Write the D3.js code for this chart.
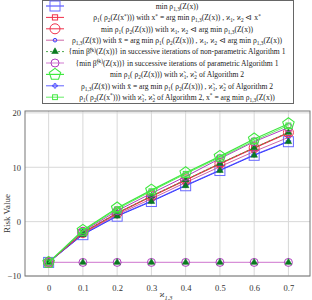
<!DOCTYPE html>
<html>
<head>
<meta charset="utf-8">
<script src="https://cdn.jsdelivr.net/npm/d3@7"></script>
<style>
  body { margin: 0; background: #fff; }
  text { font-family: "Liberation Serif", "DejaVu Serif", serif; }
</style>
</head>
<body>
<div id="container"></div>
<script>
const width = 312;
const height = 300;

// x values (ϰ1,3)
const xValues = [0, 0.1, 0.2, 0.3, 0.4, 0.5, 0.6, 0.7];
const xTicks = [0, 0.1, 0.2, 0.3, 0.4, 0.5, 0.6, 0.7];
const yTicks = [-10, 0, 10, 20];

// series
const minRho13 = [-7.5, -2.4, 1.0, 3.7, 6.6, 9.4, 12.2, 14.7];
const rho1Xstar = [-7.5, -2.1, 1.5, 4.6, 7.6, 10.6, 13.5, 16.3];
const minRho1Rho2 = [-7.5, -2.0, 1.6, 4.7, 7.7, 10.7, 13.6, 16.4];
const rho13Xbar = [-7.5, -2.2, 1.3, 4.2, 7.2, 10.1, 12.9, 15.5];
const nonParamIter = [-7.5, -2.0, 1.6, 4.7, 7.7, 10.7, 13.6, 16.4];
const nonParamIterLow = [-7.5, -7.5, -7.5, -7.5, -7.5, -7.5, -7.5, -7.5];
const paramIter = [-7.5, -7.5, -7.5, -7.5, -7.5, -7.5, -7.5, -7.5];
const paramIterUp = [-7.5, -1.8, 2.0, 5.2, 8.3, 11.6, 14.7, 17.3];
const alg2Min = [-7.5, -1.6, 2.5, 5.8, 9.0, 12.0, 15.2, 18.0];
const alg2Rho13 = [-7.5, -2.3, 1.1, 3.8, 6.7, 9.5, 12.3, 14.8];
const alg2Xstar = [-7.5, -1.7, 2.3, 5.6, 8.8, 11.8, 14.9, 17.7];

const legendLabels = [
  "min ρ_{1,3}(Z(x))",
  "ρ_1( ρ_2(Z(x^*))) with x^* = arg min ρ_{1,3}(Z(x)) , ϰ_1, ϰ_2 ⊲ x^*",
  "min ρ_1( ρ_2(Z(x))) with ϰ_1, ϰ_2 ⊲ arg min ρ_{1,3}(Z(x))",
  "ρ_{1,3}(Z(x̄)) with x̄ = arg min ρ_1( ρ_2(Z(x))) , ϰ_1, ϰ_2 ⊲ arg min ρ_{1,3}(Z(x))",
  "{min β̃^{(k)}(Z(x))} in successive iterations of non-parametric Algorithm 1",
  "{min β̃^{(k)}(Z(x))} in successive iterations of parametric Algorithm 1",
  "min ρ_1( ρ_2(Z(x))) with ϰ̃_1, ϰ̃_2 of Algorithm 2",
  "ρ_{1,3}(Z(x̄)) with x̄ = arg min ρ_1( ρ_2(Z(x))) , ϰ̃_1, ϰ̃_2 of Algorithm 2",
  "ρ_1( ρ_2(Z(x^*))) with ϰ̃_1, ϰ̃_2 of Algorithm 2, x^* = arg min ρ_{1,3}(Z(x))"
];

const blue = "#3a3aff";
const red = "#f0304a";
const lime = "#40e840";
const dkgreen = "#0a7a20";
const purple = "#b040c0";
const lilac = "#d890d8";

// draw order: bottom first
let series = [
  { vals: paramIter, line: lilac, width: 1.2, marker: "circle", size: 4, mstroke: purple, legend: 5 },
  { vals: nonParamIterLow, line: "none", marker: "triangle", size: 3.4, mfill: dkgreen, mstroke: dkgreen },
  { vals: minRho13, line: blue, width: 1, marker: "square", size: 5, mstroke: "#6a6aff", legend: 0 },
  { vals: alg2Rho13, line: blue, width: 0.8, marker: "star", size: 2, mstroke: blue, legend: 7 },
  { vals: rho13Xbar, line: "#c04090", width: 0.8, marker: "dot", size: 1.8, mstroke: blue, legend: 3 },
  { vals: rho1Xstar, line: red, width: 1, marker: "square", size: 2.6, mstroke: red, legend: 1 },
  { vals: minRho1Rho2, line: red, width: 1, marker: "circle", size: 5, mstroke: red, legend: 2 },
  { vals: nonParamIter, line: "#3aa03a", width: 0.9, dash: "2,2", marker: "triangle", size: 3.4, mfill: dkgreen, mstroke: dkgreen, legend: 4 },
  { vals: minRho13, line: "none", marker: "triangle", size: 3.4, mfill: dkgreen, mstroke: dkgreen },
  { vals: paramIterUp, line: purple, width: 1, marker: "circle", size: 4, mstroke: purple },
  { vals: alg2Xstar, line: lime, width: 0.8, marker: "square", size: 2.4, mstroke: lime, legend: 8 },
  { vals: alg2Min, line: lime, width: 1.2, marker: "pentagon", size: 6, mstroke: lime, legend: 6 }
];

let x = d3.scaleLinear().domain([-0.069, 0.763]).range([25, 310]);
let y = d3.scaleLinear().domain([-10, 20.35]).range([276, 111]);

let svg = d3.select("#container").append("svg")
  .attr("width", width)
  .attr("height", height)
  .attr("viewBox", `0 0 ${width} ${height}`);

// grid
svg.append("g")
  .selectAll("line")
  .data(xTicks)
  .join("line")
  .attr("x1", d => x(d)).attr("x2", d => x(d))
  .attr("y1", y.range()[1]).attr("y2", y.range()[0])
  .attr("stroke", "#d8d8d8").attr("stroke-width", 1);
svg.append("g")
  .selectAll("line")
  .data(yTicks)
  .join("line")
  .attr("x1", x.range()[0]).attr("x2", x.range()[1])
  .attr("y1", d => y(d)).attr("y2", d => y(d))
  .attr("stroke", "#d8d8d8").attr("stroke-width", 1);

// axes
let xAxis = svg.append("g")
  .attr("transform", `translate(0,${y.range()[0]})`)
  .call(d3.axisBottom(x).tickValues(xTicks).tickFormat(d => d === 0 ? "0" : d3.format(".1f")(d)).tickSize(0).tickPadding(9));
let yAxis = svg.append("g")
  .attr("transform", `translate(${x.range()[0]},0)`)
  .call(d3.axisLeft(y).tickValues(yTicks).tickFormat(d => d < 0 ? "\u2212" + Math.abs(d) : d).tickSize(0).tickPadding(4));
[xAxis, yAxis].forEach(a => {
  a.select(".domain").remove();
  a.selectAll("text").attr("font-size", 8.5).attr("fill", "#333")
    .attr("font-family", "Liberation Serif, serif");
});

svg.append("rect")
  .attr("x", x.range()[0]).attr("y", y.range()[1])
  .attr("width", x.range()[1] - x.range()[0])
  .attr("height", y.range()[0] - y.range()[1])
  .attr("fill", "none").attr("stroke", "#777").attr("stroke-width", 1);

// axis labels
svg.append("text")
  .attr("transform", `translate(10,${(y.range()[0] + y.range()[1]) / 2 + 20}) rotate(-90)`)
  .attr("text-anchor", "middle")
  .attr("font-size", 9).attr("fill", "#333")
  .text("Risk Value");

function markup(sel, str, size) {
  // split on _{..}, ^{..}, _c, ^c
  let re = /([_^])(\{[^}]*\}|.)/g;
  let last = 0, m, shift = 0;
  let parts = [];
  while ((m = re.exec(str)) !== null) {
    if (m.index > last) parts.push({ t: str.slice(last, m.index), s: 0 });
    let body = m[2].startsWith("{") ? m[2].slice(1, -1) : m[2];
    parts.push({ t: body, s: m[1] === "_" ? 1 : -1 });
    last = re.lastIndex;
  }
  if (last < str.length) parts.push({ t: str.slice(last), s: 0 });
  parts.forEach(p => {
    let off = p.s === 1 ? size * 0.28 : p.s === -1 ? -size * 0.35 : 0;
    sel.append("tspan")
      .attr("dy", off - shift)
      .attr("font-size", p.s ? size * 0.7 : size)
      .text(p.t);
    shift = off;
  });
}

let xl = svg.append("text")
  .attr("x", 166).attr("y", 297)
  .attr("text-anchor", "middle").attr("fill", "#333").attr("font-style", "italic");
markup(xl, "ϰ_{1,3}", 9);

// lines and markers
let line = d3.line().x((d, i) => x(xValues[i])).y(d => y(d));

function drawMarker(g, type, size, fill, stroke) {
  if (type === "square") {
    g.append("rect").attr("x", -size).attr("y", -size).attr("width", 2 * size).attr("height", 2 * size)
      .attr("fill", fill || "none").attr("stroke", stroke).attr("stroke-width", 1);
  } else if (type === "circle" || type === "dot") {
    g.append("circle").attr("r", size).attr("fill", fill || "none").attr("stroke", stroke).attr("stroke-width", 1);
  } else if (type === "triangle") {
    g.append("path").attr("d", d3.symbol(d3.symbolTriangle, size * size * 1.6)())
      .attr("fill", fill).attr("stroke", stroke).attr("stroke-width", 0.6);
  } else if (type === "pentagon") {
    let pts = d3.range(5).map(k => {
      let a = -Math.PI / 2 + k * 2 * Math.PI / 5;
      return [size * Math.cos(a), size * Math.sin(a)];
    });
    g.append("path").attr("d", "M" + pts.join("L") + "Z")
      .attr("fill", fill || "none").attr("stroke", stroke).attr("stroke-width", 1.1);
  } else if (type === "star") {
    g.append("path").attr("d", d3.symbol(d3.symbolCross, size * size * 3)())
      .attr("fill", "none").attr("stroke", stroke).attr("stroke-width", 0.8);
  }
}

series.forEach(s => {
  if (s.line !== "none") {
    svg.append("path")
      .datum(s.vals)
      .attr("d", line)
      .attr("fill", "none")
      .attr("stroke", s.line)
      .attr("stroke-width", s.width)
      .attr("stroke-dasharray", s.dash || null);
  }
  let mk = svg.append("g")
    .selectAll("g")
    .data(s.vals)
    .join("g")
    .attr("transform", (d, i) => "translate(" + x(xValues[i]) + "," + y(d) + ")");
  mk.each(function() {
    drawMarker(d3.select(this), s.marker, s.size, s.mfill, s.mstroke);
  });
});

// legend
let lg = svg.append("g");
lg.append("rect")
  .attr("x", 42.5).attr("y", 0.5).attr("width", 251).attr("height", 103)
  .attr("fill", "#fff").attr("stroke", "#666").attr("stroke-width", 1);

let legendSeries = series.filter(s => s.legend !== undefined).sort((a, b) => a.legend - b.legend);
legendSeries.forEach((s, i) => {
  let cy = 6 + i * 11.4;
  let row = lg.append("g");
  row.append("line")
    .attr("x1", 46).attr("x2", 64).attr("y1", cy).attr("y2", cy)
    .attr("stroke", s.line === "none" ? s.mstroke : s.line)
    .attr("stroke-width", s.width || 1)
    .attr("stroke-dasharray", s.dash || null);
  let mg = row.append("g").attr("transform", `translate(55,${cy})`);
  let legSize = s.marker === "pentagon" ? 6 : s.size;
  drawMarker(mg, s.marker, legSize, s.mfill, s.mstroke);
  let t = row.append("text")
    .attr("x", 177).attr("y", cy + 2.8)
    .attr("text-anchor", "middle")
    .attr("fill", "#222");
  markup(t, legendLabels[i], 7.6);
});
</script>
</body>
</html>
